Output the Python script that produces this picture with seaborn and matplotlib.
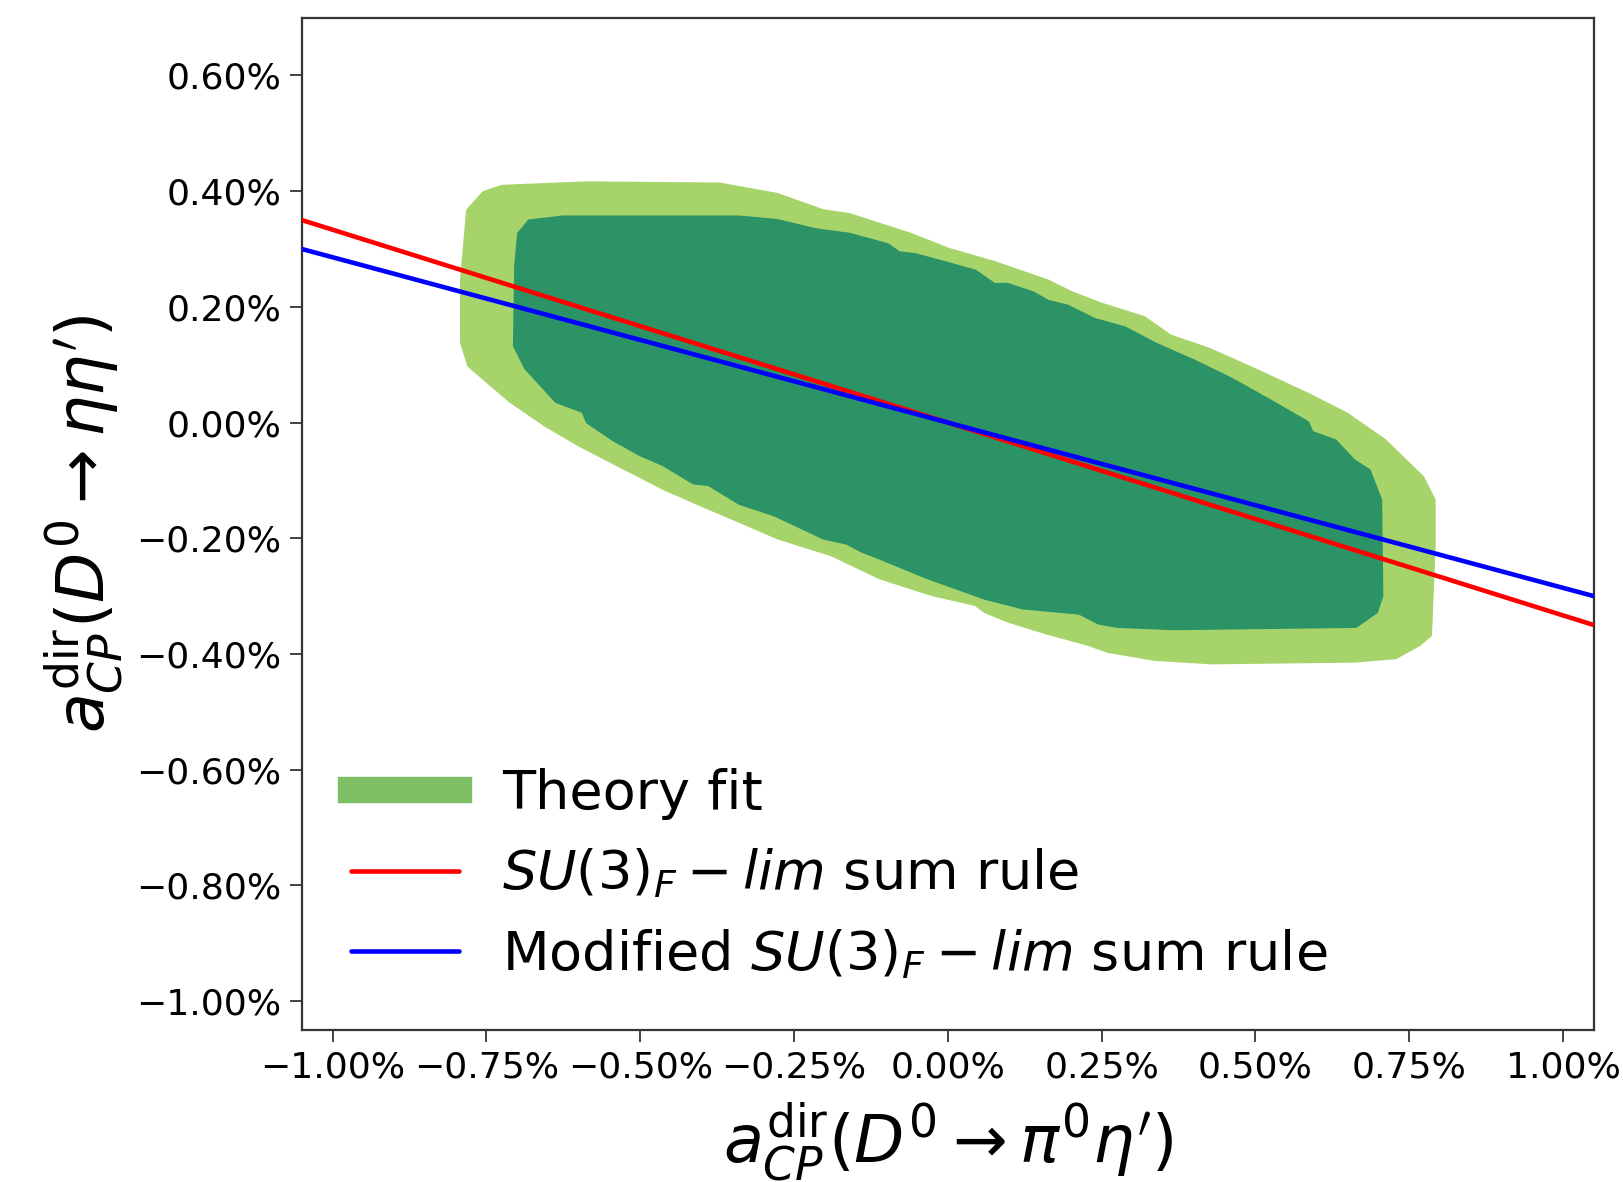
import numpy as np
import matplotlib
matplotlib.use("Agg")
import matplotlib.pyplot as plt
from matplotlib.lines import Line2D
from matplotlib.ticker import PercentFormatter
import seaborn as sns

# Theory fit regions (in %), outer = light band, inner = dark band
outer_x = [-0.783, -0.756, -0.725, -0.588, -0.371, -0.277, -0.203, -0.159, -0.060, 0.002,
           0.077, 0.164, 0.202, 0.251, 0.320, 0.363, 0.426, 0.500, 0.587, 0.650,
           0.712, 0.774, 0.793, 0.793, 0.787, 0.768, 0.729, 0.660, 0.429, 0.336,
           0.259, 0.228, 0.159, 0.098, 0.059, 0.044, -0.026, -0.111, -0.190, -0.277,
           -0.340, -0.402, -0.464, -0.539, -0.601, -0.657, -0.713, -0.756, -0.781, -0.793,
           -0.793]
outer_y = [0.368, 0.400, 0.411, 0.417, 0.415, 0.397, 0.369, 0.362, 0.328, 0.302,
           0.279, 0.247, 0.227, 0.207, 0.184, 0.152, 0.129, 0.094, 0.051, 0.017,
           -0.029, -0.093, -0.133, -0.214, -0.369, -0.386, -0.409, -0.415, -0.418, -0.412,
           -0.398, -0.386, -0.366, -0.346, -0.329, -0.317, -0.300, -0.271, -0.231, -0.202,
           -0.173, -0.145, -0.116, -0.075, -0.041, -0.006, 0.035, 0.074, 0.097, 0.138,
           0.247]

inner_x = [-0.682, -0.626, -0.340, -0.277, -0.215, -0.159, -0.097, -0.078, -0.053, -0.004,
           0.046, 0.077, 0.096, 0.139, 0.164, 0.195, 0.239, 0.289, 0.339, 0.401,
           0.463, 0.525, 0.587, 0.594, 0.631, 0.662, 0.687, 0.706, 0.708, 0.699,
           0.664, 0.367, 0.275, 0.244, 0.213, 0.121, 0.059, -0.033, -0.111, -0.140,
           -0.165, -0.203, -0.283, -0.340, -0.389, -0.414, -0.464, -0.501, -0.545, -0.588,
           -0.595, -0.638, -0.688, -0.707, -0.705, -0.700]
inner_y = [0.351, 0.358, 0.358, 0.352, 0.336, 0.328, 0.310, 0.296, 0.293, 0.279,
           0.264, 0.241, 0.242, 0.227, 0.212, 0.204, 0.181, 0.166, 0.138, 0.109,
           0.077, 0.040, 0.002, -0.015, -0.029, -0.064, -0.081, -0.133, -0.300, -0.329,
           -0.355, -0.359, -0.355, -0.349, -0.332, -0.323, -0.306, -0.271, -0.237, -0.225,
           -0.211, -0.202, -0.162, -0.142, -0.110, -0.107, -0.075, -0.058, -0.032, -0.001,
           0.017, 0.034, 0.092, 0.132, 0.270, 0.328]

# sum rule lines (in %)
line_x = [-1.05, 1.05]
sumrule_y = [0.35, -0.35]
modified_y = [0.30, -0.30]

x_ticks = [-1.00, -0.75, -0.50, -0.25, 0.00, 0.25, 0.50, 0.75, 1.00]
y_ticks = [-1.00, -0.80, -0.60, -0.40, -0.20, 0.00, 0.20, 0.40, 0.60]

sns.set_style("ticks")

fig = plt.figure(figsize=(16.23, 11.82), dpi=100)
ax = fig.add_axes([0.186, 0.1286, 0.796, 0.8565])

ax.fill(outer_x, outer_y, color="#a7d46a", lw=0, zorder=1)
ax.fill(inner_x, inner_y, color="#2b9366", lw=0, zorder=2)

sns.lineplot(x=line_x, y=sumrule_y, color="red", lw=3.3, ax=ax, zorder=3)
sns.lineplot(x=line_x, y=modified_y, color="blue", lw=3.3, ax=ax, zorder=3)

ax.set_xlim(-1.05, 1.05)
ax.set_ylim(-1.05, 0.70)
ax.set_xticks(x_ticks)
ax.set_yticks(y_ticks)
ax.xaxis.set_major_formatter(PercentFormatter(xmax=100, decimals=2))
ax.yaxis.set_major_formatter(PercentFormatter(xmax=100, decimals=2))
ax.tick_params(labelsize=26, length=8.5, width=1.3, color="#333333", labelcolor="black", pad=6)
for s in ax.spines.values():
    s.set_linewidth(1.6)
    s.set_color("#333333")

ax.set_xlabel(r"$a_{CP}^{\rm dir}(D^0 \to \pi^0\eta^\prime)$", fontsize=47, labelpad=12, color="black")
ax.set_ylabel(r"$a_{CP}^{\rm dir}(D^0 \to \eta\eta^\prime)$", fontsize=47, labelpad=8, color="black")

handles = [
    Line2D([], [], color="#7ebf66", lw=19, solid_capstyle="projecting"),
    Line2D([], [], color="red", lw=3.3),
    Line2D([], [], color="blue", lw=3.3),
]
labels = ["Theory fit", r"$SU(3)_F - lim$ sum rule", r"Modified $SU(3)_F - lim$ sum rule"]
leg = ax.legend(handles, labels, loc="lower left", fontsize=39, frameon=False)
for t in leg.get_texts():
    t.set_color("black")

fig.savefig("out.png", dpi=100)
